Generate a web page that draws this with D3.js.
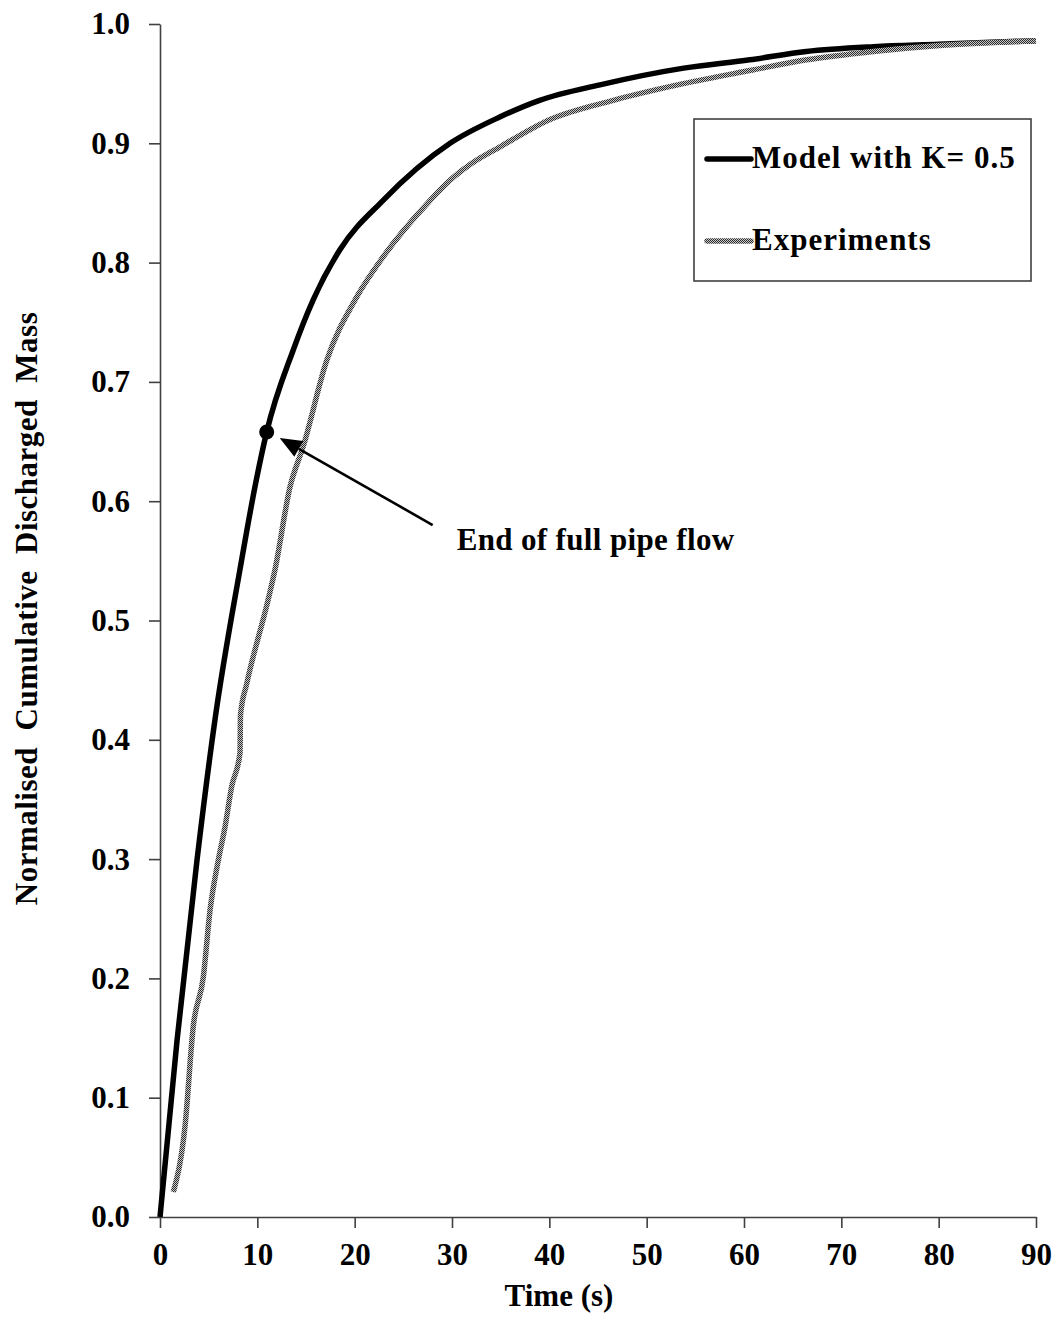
<!DOCTYPE html>
<html>
<head>
<meta charset="utf-8">
<script src="https://cdn.jsdelivr.net/npm/d3@7"></script>
<style>
  html, body { margin: 0; padding: 0; background: #fff; }
  svg { display: block; }
  text { font-family: "Liberation Serif", "Times New Roman", serif; font-weight: bold; fill: #000; }
</style>
</head>
<body>
<svg id="chart" width="1062" height="1318"></svg>
<script>
// Model with K = 0.5 : time (s) and normalised cumulative discharged mass
const modelTime  = [0, 1.75, 3.8, 5.65, 8.2, 9.9, 10.96, 13.7, 15.75, 18.5, 22.9, 29.8, 34.9, 39.0, 45.2, 53.8, 60.6, 66.4, 73.3, 80.0, 90.0];
const modelValue = [0, 0.148, 0.299, 0.417, 0.542, 0.618, 0.658, 0.727, 0.769, 0.811, 0.852, 0.900, 0.922, 0.936, 0.949, 0.963, 0.970, 0.977, 0.981, 0.983, 0.986];

// Experimental measurements
const expTime  = [1.37, 2.57, 3.42, 4.45, 5.14, 5.99, 6.68, 7.37, 8.22, 8.27, 8.91, 11.1, 11.8, 13.36, 14.72, 17.13, 20.2, 22.94, 27.74, 29.8, 32.0, 34.93, 40.07, 46.57, 53.76, 60.6, 66.44, 73.29, 80.1, 90.0];
const expValue = [0.021, 0.076, 0.160, 0.201, 0.257, 0.299, 0.327, 0.361, 0.389, 0.421, 0.447, 0.517, 0.542, 0.612, 0.646, 0.718, 0.771, 0.805, 0.852, 0.869, 0.883, 0.897, 0.920, 0.936, 0.950, 0.961, 0.970, 0.977, 0.982, 0.986];

// End of full pipe flow (marked on the model curve)
const fullPipeEnd = { t: 10.96, v: 0.658 };

const xTicks = [0, 10, 20, 30, 40, 50, 60, 70, 80, 90];
const yTicks = [0, 0.1, 0.2, 0.3, 0.4, 0.5, 0.6, 0.7, 0.8, 0.9, 1.0];

const seriesNames = ["Model with K= 0.5", "Experiments"];
const xTitle = "Time (s)";
const yTitle = "Normalised  Cumulative  Discharged  Mass";
const noteText = "End of full pipe flow";

const svg = d3.select("#chart");
const plot = { left: 160, right: 1036, top: 24, bottom: 1217 };

const x = d3.scaleLinear().domain([0, 90]).range([plot.left, plot.right]);
const y = d3.scaleLinear().domain([0, 1]).range([plot.bottom, plot.top]);

// checkered grey fill used for the experimental line
const defs = svg.append("defs");
const pat = defs.append("pattern")
  .attr("id", "checker").attr("patternUnits", "userSpaceOnUse")
  .attr("width", 2).attr("height", 2);
pat.append("rect").attr("width", 2).attr("height", 2).attr("fill", "#c8c8c8");
pat.append("rect").attr("x", 0).attr("y", 0).attr("width", 1).attr("height", 1).attr("fill", "#2c2c2c");
pat.append("rect").attr("x", 1).attr("y", 1).attr("width", 1).attr("height", 1).attr("fill", "#2c2c2c");

// axes
const axisFont = 31;
const yAxis = d3.axisLeft(y).tickValues(yTicks).tickFormat(d => d.toFixed(1))
  .tickSize(11).tickSizeOuter(0).tickPadding(19);
const xAxis = d3.axisBottom(x).tickValues(xTicks).tickFormat(d3.format("d"))
  .tickSize(11).tickSizeOuter(0).tickPadding(15);

const gy = svg.append("g").attr("transform", `translate(${plot.left},0)`).call(yAxis);
const gx = svg.append("g").attr("transform", `translate(0,${plot.bottom})`).call(xAxis);
[gx, gy].forEach(g => {
  g.selectAll("path.domain").attr("stroke", "#404040").attr("stroke-width", 1.6);
  g.selectAll(".tick line").attr("stroke", "#404040").attr("stroke-width", 1.6);
  g.selectAll(".tick text")
    .style("font-family", '"Liberation Serif", "Times New Roman", serif')
    .style("font-weight", "bold").style("font-size", axisFont + "px").attr("fill", "#000");
});

// axis titles
svg.append("text")
  .attr("x", (plot.left + plot.right) / 2 - 39).attr("y", 1306)
  .attr("text-anchor", "middle").style("font-size", "31px")
  .text(xTitle);

svg.append("text")
  .attr("transform", `translate(37,${(plot.top + plot.bottom) / 2 - 12}) rotate(-90)`)
  .attr("text-anchor", "middle").style("font-size", "31px")
  .style("letter-spacing", "0.5px")
  .style("white-space", "pre")
  .text(yTitle);

// series
const line = d3.line().x(d => x(d[0])).y(d => y(d[1])).curve(d3.curveMonotoneX);
const modelData = modelTime.map((t, i) => [t, modelValue[i]]);
const expData = expTime.map((t, i) => [t, expValue[i]]);

svg.append("path").datum(modelData)
  .attr("d", line).attr("fill", "none")
  .attr("stroke", "#000").attr("stroke-width", 5.5).attr("stroke-linejoin", "round");

svg.append("path").datum(expData)
  .attr("d", line).attr("fill", "none")
  .attr("stroke", "url(#checker)").attr("stroke-width", 5.5).attr("stroke-linejoin", "round");

// end-of-full-pipe-flow marker
const px = x(fullPipeEnd.t), py = y(fullPipeEnd.v);
svg.append("circle").attr("cx", px).attr("cy", py).attr("r", 7.5).attr("fill", "#000");

// annotation arrow
const tip = [px + 13, py + 6], tail = [px + 166, py + 93];
const ang = Math.atan2(tail[1] - tip[1], tail[0] - tip[0]);
const headLen = 22, headHalf = 9;
const base = [tip[0] + headLen * Math.cos(ang), tip[1] + headLen * Math.sin(ang)];
svg.append("line")
  .attr("x1", tail[0]).attr("y1", tail[1]).attr("x2", base[0]).attr("y2", base[1])
  .attr("stroke", "#000").attr("stroke-width", 2.6);
svg.append("path")
  .attr("d", `M${tip[0]},${tip[1]}
    L${base[0] - headHalf * Math.sin(ang)},${base[1] + headHalf * Math.cos(ang)}
    L${base[0] + headHalf * Math.sin(ang)},${base[1] - headHalf * Math.cos(ang)}Z`)
  .attr("fill", "#000");

svg.append("text")
  .attr("x", px + 190).attr("y", py + 118)
  .style("font-size", "31px").style("letter-spacing", "0.35px")
  .text(noteText);

// legend
const lg = svg.append("g");
lg.append("rect").attr("x", 694).attr("y", 119).attr("width", 337).attr("height", 162)
  .attr("fill", "#fff").attr("stroke", "#404040").attr("stroke-width", 1.6);
const legendRows = [
  { name: seriesNames[0], stroke: "#000", width: 5.5, cy: 159 },
  { name: seriesNames[1], stroke: "url(#checker)", width: 5.5, cy: 241 }
];
legendRows.forEach(r => {
  lg.append("line").attr("x1", 707).attr("x2", 751).attr("y1", r.cy).attr("y2", r.cy)
    .attr("stroke", r.stroke).attr("stroke-width", r.width).attr("stroke-linecap", "round");
  lg.append("text").attr("x", 752).attr("y", r.cy + 9)
    .style("font-size", "31px").style("letter-spacing", "1px")
    .text(r.name);
});
</script>
</body>
</html>
